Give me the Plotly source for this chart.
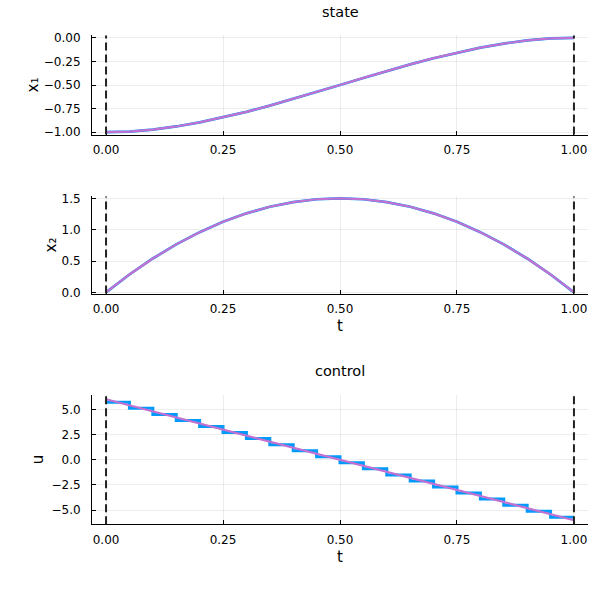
import plotly.graph_objects as go

# time grid (read at 0.05 steps)
t = [0.00, 0.05, 0.10, 0.15, 0.20, 0.25, 0.30, 0.35, 0.40, 0.45, 0.50,
     0.55, 0.60, 0.65, 0.70, 0.75, 0.80, 0.85, 0.90, 0.95, 1.00]

# state x1 (reference and estimate overlap)
x1_ref = [-1.000, -0.993, -0.972, -0.939, -0.896, -0.844, -0.784, -0.718, -0.648, -0.575, -0.500,
          -0.425, -0.352, -0.282, -0.216, -0.156, -0.104, -0.061, -0.028, -0.007, 0.000]
x1_est = [-1.000, -0.993, -0.972, -0.939, -0.896, -0.844, -0.784, -0.718, -0.648, -0.575, -0.500,
          -0.425, -0.352, -0.282, -0.216, -0.156, -0.104, -0.061, -0.028, -0.007, 0.000]

# state x2
x2_ref = [0.000, 0.285, 0.540, 0.765, 0.960, 1.125, 1.260, 1.365, 1.440, 1.485, 1.500,
          1.485, 1.440, 1.365, 1.260, 1.125, 0.960, 0.765, 0.540, 0.285, 0.000]
x2_est = [0.000, 0.285, 0.540, 0.765, 0.960, 1.125, 1.260, 1.365, 1.440, 1.485, 1.500,
          1.485, 1.440, 1.365, 1.260, 1.125, 0.960, 0.765, 0.540, 0.285, 0.000]

# control: piecewise constant (20 intervals), last value repeated for step end
u_step = [5.7, 5.1, 4.5, 3.9, 3.3, 2.7, 2.1, 1.5, 0.9, 0.3,
          -0.3, -0.9, -1.5, -2.1, -2.7, -3.3, -3.9, -4.5, -5.1, -5.7, -5.7]
# continuous control
u_cont = [6.0, 5.4, 4.8, 4.2, 3.6, 3.0, 2.4, 1.8, 1.2, 0.6, 0.0,
          -0.6, -1.2, -1.8, -2.4, -3.0, -3.6, -4.2, -4.8, -5.4, -6.0]

t_bounds = [0.0, 1.0]
xticks = [0.0, 0.25, 0.5, 0.75, 1.0]
x1_ticks = [0.0, -0.25, -0.5, -0.75, -1.0]
x2_ticks = [0.0, 0.5, 1.0, 1.5]
u_ticks = [5.0, 2.5, 0.0, -2.5, -5.0]

BLUE = "#009AFA"
PURPLE = "#C271D2"
FONT = "DejaVu Sans"

fig = go.Figure()

def line(x, y, xa, ya, color, width, shape="linear"):
    fig.add_trace(go.Scatter(x=x, y=y, mode="lines", line=dict(color=color, width=width, shape=shape),
                             xaxis=xa, yaxis=ya, showlegend=False, hoverinfo="skip"))

line(t, x1_ref, "x", "y", BLUE, 2.7)
line(t, x1_est, "x", "y", PURPLE, 2.2)
line(t, x2_ref, "x2", "y2", BLUE, 2.7)
line(t, x2_est, "x2", "y2", PURPLE, 2.2)
line(t, u_step, "x3", "y3", BLUE, 3.0, "hv")
line(t, u_cont, "x3", "y3", PURPLE, 2.2)

xdom = [92 / 600, 588 / 600]
doms = [[1 - 132 / 600, 1 - 31 / 600], [1 - 294 / 600, 1 - 195 / 600], [1 - 529 / 600, 1 - 397 / 600]]

axis_common = dict(showgrid=True, gridcolor="rgba(0,0,0,0.07)", gridwidth=1, zeroline=False,
                   showline=True, linecolor="black", linewidth=1, mirror=False,
                   ticks="inside", ticklen=4, tickcolor="black",
                   tickfont=dict(family=FONT, size=12, color="black"))
ytf = dict(ticklabelstandoff=8)
xtf = dict(ticklabelstandoff=4)
tfont = dict(family=FONT, size=15, color="black")

xr = [-0.03, 1.03]
fig.update_layout(
    xaxis=dict(domain=xdom, anchor="y", range=xr, tickvals=xticks, tickformat=".2f", **xtf, **axis_common),
    yaxis=dict(domain=doms[0], anchor="x", range=[-1.025, 0.025], tickvals=x1_ticks, tickformat=".2f",
               title=dict(text="x₁", font=tfont, standoff=1), **ytf, **axis_common),
    xaxis2=dict(domain=xdom, anchor="y2", range=xr, tickvals=xticks, tickformat=".2f",
                title=dict(text="t", font=tfont, standoff=5), **xtf, **axis_common),
    yaxis2=dict(domain=doms[1], anchor="x2", range=[-0.02, 1.53], tickvals=x2_ticks, tickformat=".1f",
                title=dict(text="x₂", font=tfont, standoff=1), **ytf, **axis_common),
    xaxis3=dict(domain=xdom, anchor="y3", range=xr, tickvals=xticks, tickformat=".2f",
                title=dict(text="t", font=tfont, standoff=5), **xtf, **axis_common),
    yaxis3=dict(domain=doms[2], anchor="x3", range=[-6.4, 6.45], tickvals=u_ticks, tickformat=".1f",
                title=dict(text="u", font=tfont, standoff=4), **ytf, **axis_common),
    width=600, height=600, margin=dict(l=0, r=0, t=0, b=0),
    paper_bgcolor="white", plot_bgcolor="white",
    font=dict(family=FONT, color="black"),
)

for xa, ya in [("x", "y"), ("x2", "y2"), ("x3", "y3")]:
    for tb in t_bounds:
        fig.add_shape(type="line", xref=xa, yref=f"{ya} domain", x0=tb, x1=tb, y0=0, y1=1,
                      line=dict(color="#222222", width=2, dash="8px,4px"), layer="above")

fig.add_annotation(text="state", x=(xdom[0] + xdom[1]) / 2, y=1 - 7 / 600, xref="paper", yref="paper",
                   showarrow=False, font=dict(family=FONT, size=14.5, color="black"), yanchor="middle")
fig.add_annotation(text="control", x=(xdom[0] + xdom[1]) / 2, y=1 - 373 / 600, xref="paper", yref="paper",
                   showarrow=False, font=dict(family=FONT, size=14.5, color="black"), yanchor="middle")

fig.write_html("out.html", config={"displayModeBar": False},
               post_script="document.body.style.margin='0';")
